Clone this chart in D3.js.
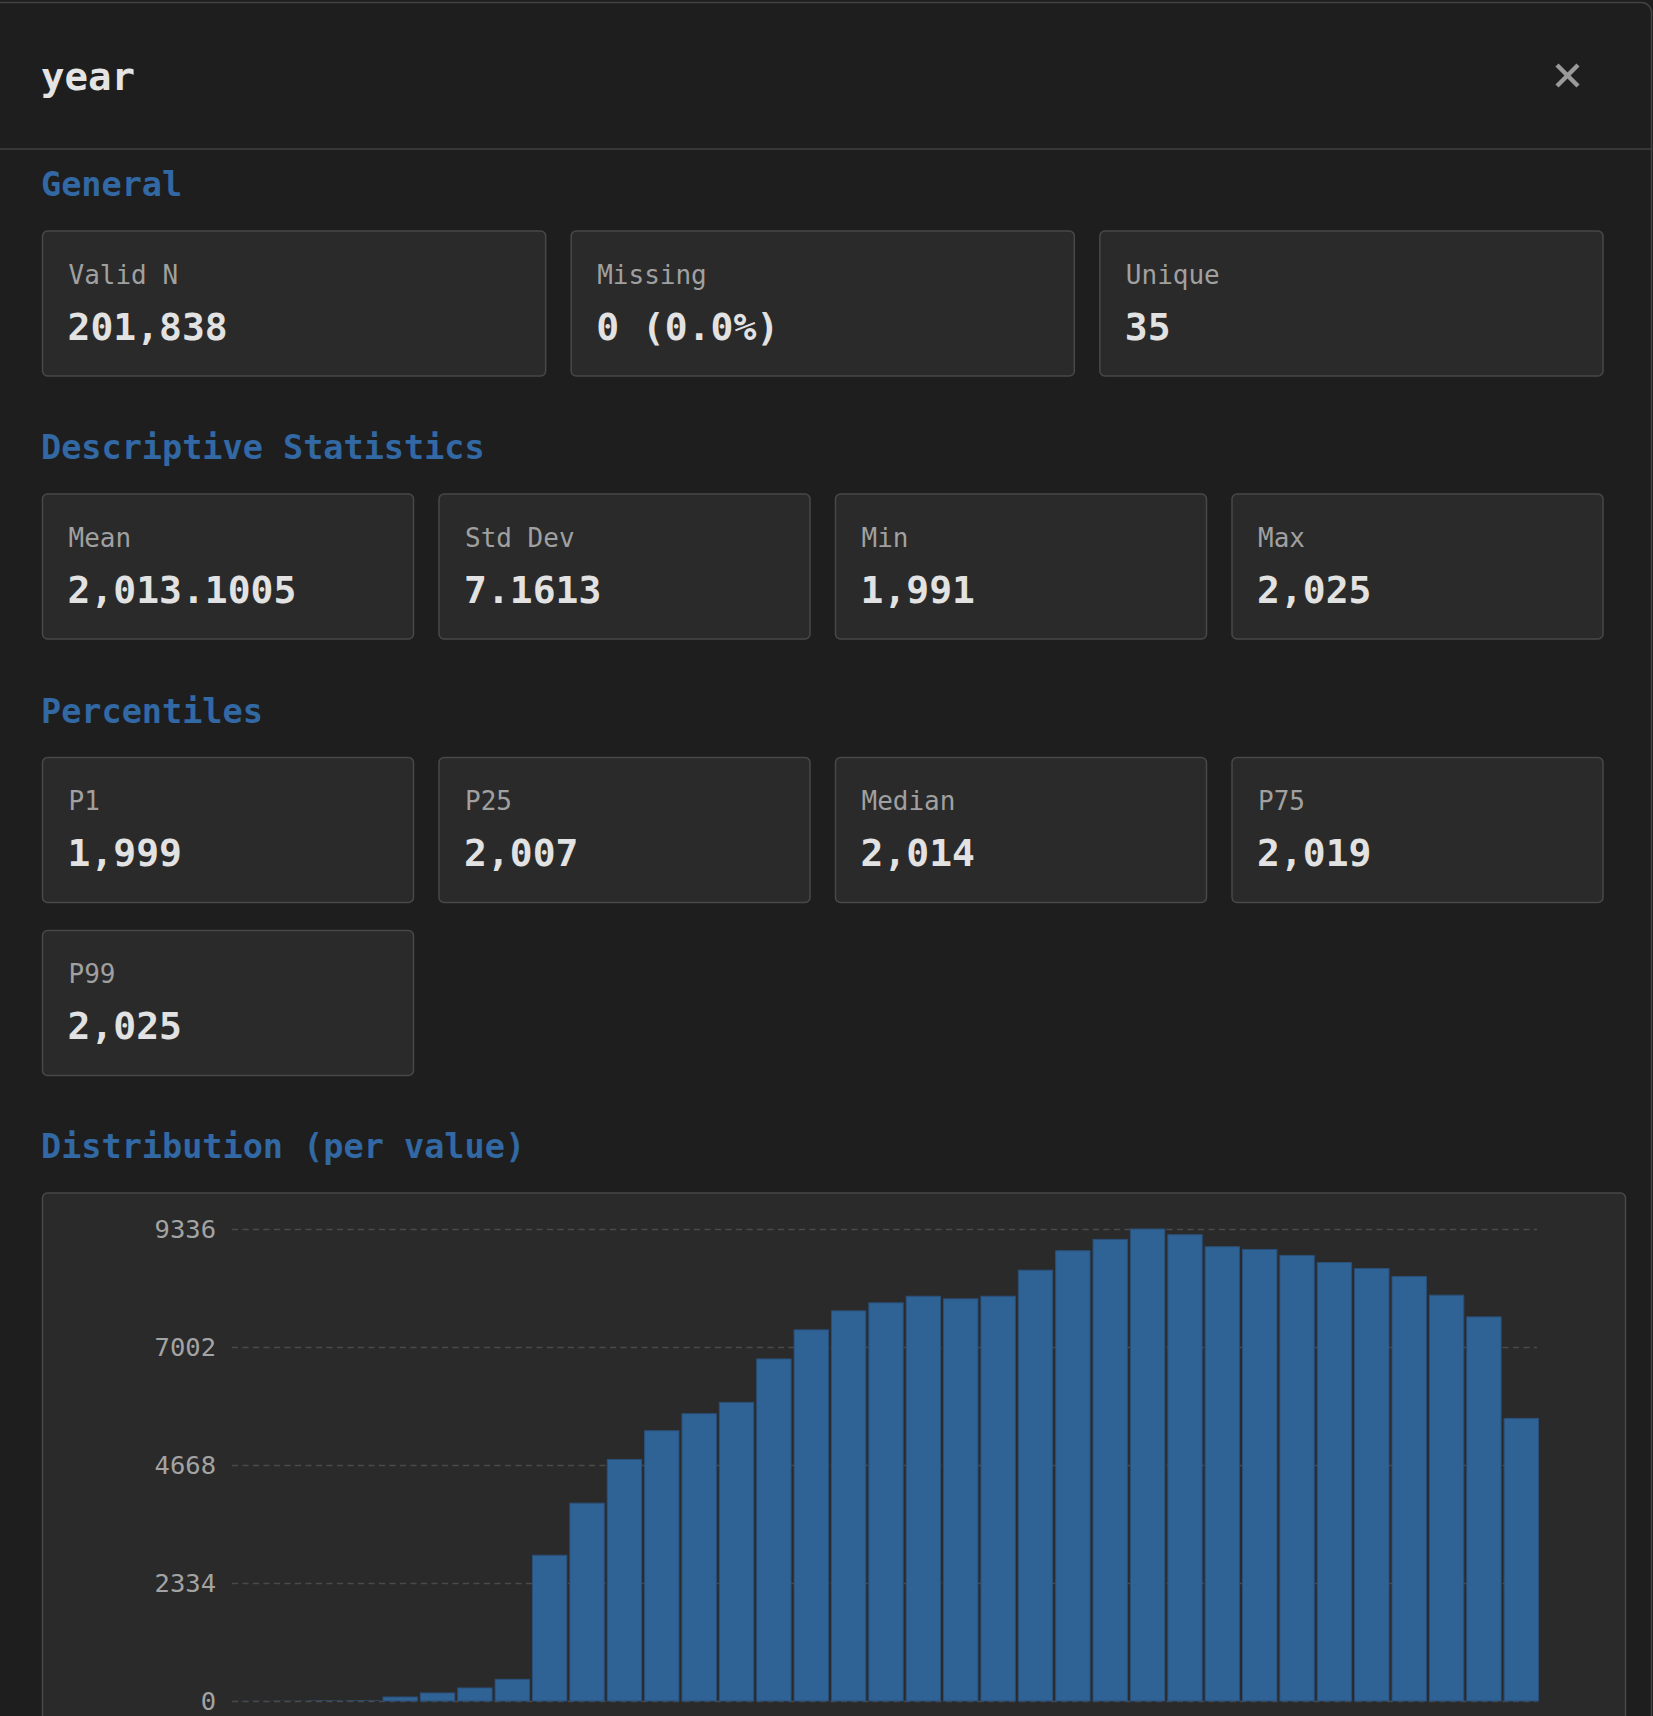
<!DOCTYPE html>
<html>
<head>
<meta charset="utf-8">
<script src="https://cdn.jsdelivr.net/npm/d3@7/dist/d3.min.js"></script>
<style>
  html, body { margin: 0; padding: 0; background: #1e1e1e; overflow: hidden; }
  svg { display: block; font-family: "DejaVu Sans Mono", monospace; }
</style>
</head>
<body>
<svg id="panel" width="1653" height="1716"></svg>
<script>
// column summary values
const title = "year";
const generalStats = [["Valid N", "201,838"], ["Missing", "0 (0.0%)"], ["Unique", "35"]];
const descStats = [["Mean", "2,013.1005"], ["Std Dev", "7.1613"], ["Min", "1,991"], ["Max", "2,025"]];
const percentileStats = [["P1", "1,999"], ["P25", "2,007"], ["Median", "2,014"], ["P75", "2,019"], ["P99", "2,025"]];

// distribution (count per year)
const years = [1991, 1992, 1993, 1994, 1995, 1996, 1997, 1998, 1999, 2000,
               2001, 2002, 2003, 2004, 2005, 2006, 2007, 2008, 2009, 2010,
               2011, 2012, 2013, 2014, 2015, 2016, 2017, 2018, 2019, 2020,
               2021, 2022, 2023, 2024, 2025];
const counts = [2, 4, 8, 10, 79, 159, 258, 430, 2883, 3913,
                4777, 5346, 5683, 5907, 6766, 7341, 7717, 7876, 8007, 7955,
                8007, 8522, 8906, 9130, 9336, 9223, 8985, 8932, 8813, 8674,
                8555, 8397, 8027, 7598, 5590];
const yTicks = [0, 2334, 4668, 7002, 9336];

const svg = d3.select("#panel");

// panel frame + header
svg.append("rect")
  .attr("x", -20).attr("y", 2.5)
  .attr("width", 1671.5).attr("height", 1760)
  .attr("rx", 10)
  .attr("fill", "#1e1e1e").attr("stroke", "#424242").attr("stroke-width", 1.5);

svg.append("text")
  .attr("x", 41).attr("y", 90)
  .attr("fill", "#e4e4e4")
  .style("font-size", "39px").style("font-weight", "bold")
  .text(title);

// close icon
const close = svg.append("g").attr("stroke", "#9a9a9a").attr("stroke-width", 4.5);
close.append("line").attr("x1", 1557).attr("y1", 65).attr("x2", 1578).attr("y2", 86);
close.append("line").attr("x1", 1578).attr("y1", 65).attr("x2", 1557).attr("y2", 86);

svg.append("line")
  .attr("x1", 0).attr("x2", 1651).attr("y1", 149).attr("y2", 149)
  .attr("stroke", "#404040").attr("stroke-width", 1.5);

// section headings
function heading(text, y) {
  svg.append("text")
    .attr("x", 41).attr("y", y)
    .attr("fill", "#3268a3")
    .style("font-size", "33.5px").style("font-weight", "bold")
    .text(text);
}

// stat cards
function cards(stats, cols, top) {
  const left = 42.5, right = 1603, gap = 25.5;
  const w = (right - left - gap * (cols - 1)) / cols;
  const h = 145;
  const g = svg.append("g");
  const card = g.selectAll("g.card")
    .data(stats)
    .join("g")
    .attr("class", "card")
    .attr("transform", (d, i) => `translate(${left + (i % cols) * (w + gap)},${top + Math.floor(i / cols) * (h + 28)})`);
  card.append("rect")
    .attr("width", w).attr("height", h).attr("rx", 5)
    .attr("fill", "#2a2a2a").attr("stroke", "#484848").attr("stroke-width", 1.5);
  card.append("text")
    .attr("x", 26).attr("y", 52.5)
    .attr("fill", "#a0a0a0")
    .style("font-size", "26px")
    .text(d => d[0]);
  card.append("text")
    .attr("x", 25).attr("y", 108.5)
    .attr("fill", "#e2e2e2")
    .style("font-size", "38px").style("font-weight", "bold")
    .text(d => d[1]);
}

heading("General", 196);
cards(generalStats, 3, 231);
heading("Descriptive Statistics", 459);
cards(descStats, 4, 494);
heading("Percentiles", 722.5);
cards(percentileStats, 4, 757.5);
heading("Distribution (per value)", 1158);

// distribution chart
svg.append("rect")
  .attr("x", 42.5).attr("y", 1193)
  .attr("width", 1583).attr("height", 700)
  .attr("rx", 5)
  .attr("fill", "#2a2a2a").attr("stroke", "#484848").attr("stroke-width", 1.5);

const x = d3.scaleBand()
  .domain(years)
  .range([232, 1540])
  .paddingInner(0.08)
  .paddingOuter(0.04);

const y = d3.scaleLinear()
  .domain([0, d3.max(yTicks)])
  .range([1701, 1229]);

const gridW = 1537 - 232;
const yAxis = svg.append("g")
  .attr("transform", "translate(232,0)")
  .call(d3.axisLeft(y).tickValues(yTicks).tickSize(-gridW).tickPadding(16).tickFormat(d3.format("d")));
yAxis.select(".domain").remove();
yAxis.selectAll(".tick line")
  .attr("stroke", "#4a4a4a")
  .attr("stroke-width", 1.3)
  .attr("stroke-dasharray", "6,4.5");
yAxis.selectAll(".tick text")
  .attr("fill", "#a3a3a3")
  .style("font-size", "25.5px")
  .style("font-family", "'DejaVu Sans Mono', monospace");

svg.append("g")
  .selectAll("rect")
  .data(years.map((yr, i) => ({ year: yr, count: counts[i] })))
  .join("rect")
  .attr("x", d => x(d.year))
  .attr("y", d => y(d.count))
  .attr("width", x.bandwidth())
  .attr("height", d => y(0) - y(d.count))
  .attr("fill", "#2f6396")
  .attr("stroke", d => (y(0) - y(d.count)) > 1 ? "#2b4f78" : "none")
  .attr("stroke-width", 1);
</script>
</body>
</html>
